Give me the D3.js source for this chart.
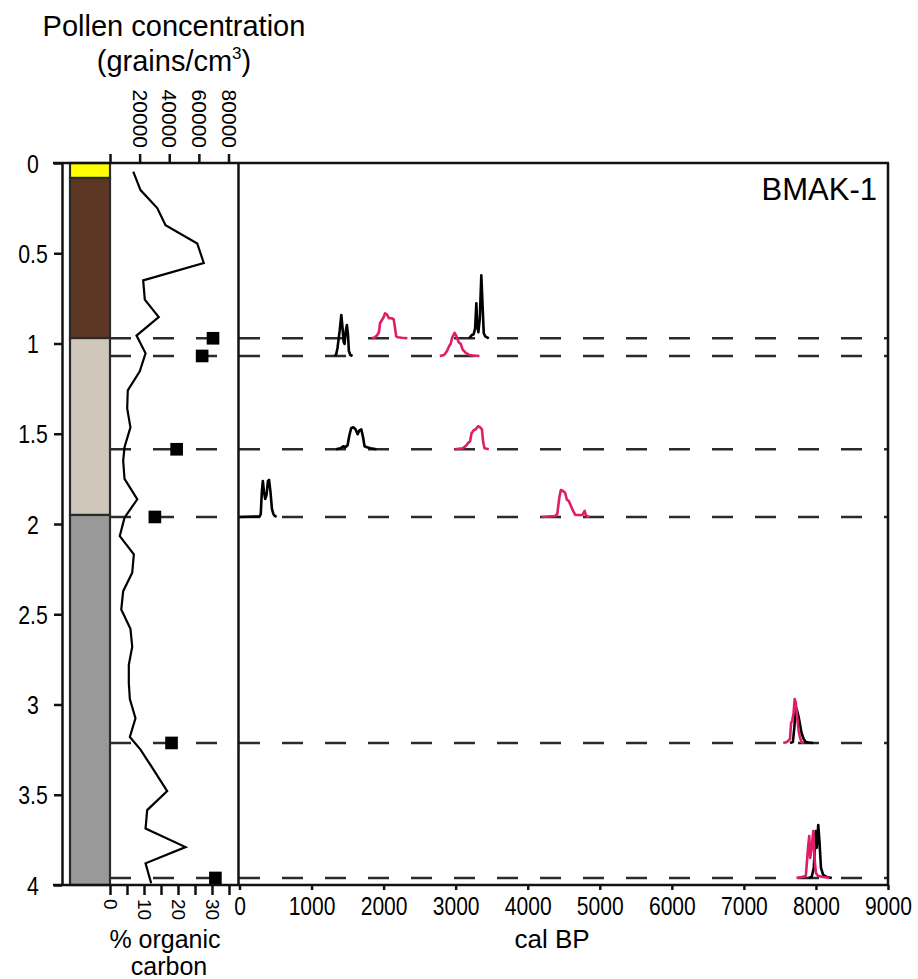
<!DOCTYPE html>
<html><head><meta charset="utf-8">
<script src="https://cdn.jsdelivr.net/npm/d3@7"></script>
<style>
body{margin:0;background:#fff}
text{font-family:"Liberation Sans",Arial,Helvetica,sans-serif;fill:#000}
</style>
</head><body>
<svg id="chart" width="918" height="979"></svg>
<script>
// ---------------- DATA ----------------
const siteName = "BMAK-1";
// stratigraphy (depth in m)
const strataTop    = [0, 0.083, 0.97, 1.95];
const strataBottom = [0.083, 0.97, 1.95, 4];
const strataType   = ["peat top", "peat", "silt", "clay"];

// pollen concentration (grains/cm3) vs depth (m)
const pollenDepth = [0.048,0.15,0.25,0.345,0.446,0.554,0.65,0.757,0.854,0.956,1.054,1.154,1.26,1.36,1.465,1.575,1.65,1.75,1.863,1.965,2.067,2.168,2.27,2.372,2.474,2.58,2.68,2.78,2.88,2.97,3.076,3.18,3.25,3.335,3.48,3.585,3.687,3.79,3.88,3.99];
const pollenConc  = [15700,20600,31900,37500,58900,63300,22400,23500,32900,17900,24000,20100,12000,11600,13800,9800,8900,9800,18400,9800,6600,16100,15000,8900,7600,13800,15000,12700,12700,13400,17200,13400,20600,27300,38600,25100,24000,51000,24000,27800];

// dated depths and % organic carbon
const datedDepth = [0.971, 1.069, 1.586, 1.961, 3.213, 3.961];
const organicC   = [30.3, 27.1, 19.6, 13.2, 18.1, 31.0];

// calibrated age probability distributions
const distSeries = ["black","pink","pink","black","black","pink","black","pink","black","pink","black","pink"];
const distDepth  = [1.069, 0.971, 1.069, 0.971, 1.586, 1.586, 1.961, 1.961, 3.213, 3.213, 3.961, 3.961];
const distAge = [
  [1319,1340,1360,1390,1413,1430,1445,1458,1475,1490,1505,1518,1538,1569],
  [1840,1880,1910,1935,1950,1975,2000,2020,2045,2075,2110,2140,2155,2175,2200,2250,2330],
  [2780,2840,2880,2910,2930,2950,2985,3010,3040,3070,3100,3140,3190,3240,3330],
  [3190,3220,3250,3270,3287,3300,3315,3335,3356,3375,3390,3410,3460],
  [1340,1400,1440,1470,1500,1525,1550,1580,1610,1640,1665,1690,1715,1735,1770,1820,1900],
  [2985,3100,3150,3170,3200,3220,3250,3280,3310,3340,3365,3380,3400,3460],
  [0,280,295,310,324,340,357,375,395,410,430,450,470,490,515],
  [4190,4380,4410,4440,4460,4490,4520,4545,4570,4600,4630,4660,4700,4760,4790,4805,4830,4860],
  [7640,7680,7700,7720,7740,7760,7780,7800,7830,7860,7900,7960],
  [7546,7600,7640,7655,7670,7690,7705,7720,7740,7760,7780,7800,7830],
  [7900,7940,7970,7996,8010,8032,8050,8070,8100,8150,8220],
  [7730,7800,7860,7890,7907,7920,7940,7963,7980,8000,8030,8100,8190]
];
const distProb = [
  [0,.01,.08,.25,.41,.28,.14,.12,.25,.31,.22,.05,.01,0],
  [0,.01,.03,.06,.15,.18,.21,.25,.24,.20,.20,.19,.12,.02,.01,.005,0],
  [0,.01,.05,.10,.12,.18,.23,.20,.14,.12,.06,.03,.01,.005,0],
  [0,.03,.04,.10,.35,.12,.06,.20,.63,.30,.05,.02,0],
  [0,.01,.03,.02,.04,.14,.21,.22,.20,.15,.19,.20,.12,.03,.02,.01,0],
  [0,.01,.04,.06,.08,.16,.19,.20,.23,.22,.20,.08,.01,0],
  [0,.005,.03,.25,.36,.25,.18,.22,.36,.37,.25,.08,.03,.01,0],
  [0,.01,.03,.20,.27,.26,.24,.17,.16,.11,.06,.02,.02,.02,.06,.02,.005,0],
  [0,.01,.15,.36,.32,.26,.18,.10,.04,.01,.005,0],
  [0,.01,.04,.20,.22,.30,.44,.40,.25,.12,.05,.01,0],
  [0,.01,.10,.47,.30,.53,.35,.10,.03,.01,0],
  [0,.01,.02,.30,.42,.20,.30,.47,.20,.05,.02,.01,0]
];

const depthTicks  = [0,0.5,1,1.5,2,2.5,3,3.5,4];
const pollenTicks = [0,20000,40000,60000,80000];
const ocTicks     = [0,5,10,15,20,25,30,35];
const ocLabels    = [0,10,20,30];
const calTicks    = [0,1000,2000,3000,4000,5000,6000,7000,8000,9000];

// ---------------- STYLE ----------------
const strataColor = {"peat top":"#ffff00","peat":"#5e3624","silt":"#cfc8ba","clay":"#999999"};
const seriesColor = {black:"#000000", pink:"#e01e68"};
const lineCol = "#111";

// ---------------- SCALES ----------------
const svg = d3.select("#chart");
const y = d3.scaleLinear().domain([0,4]).range([163,885]);
const xPollen = d3.scaleLinear().domain([0,80000]).range([110,228.5]);
const xOC = d3.scaleLinear().domain([0,35]).range([110,229]);
const xCal = d3.scaleLinear().domain([0,9000]).range([239.5,888]);
const yProb = d3.scaleLinear().domain([0,1]).range([0,100]);

const font = 'font-family:"Liberation Sans",Arial,sans-serif';

// ---------------- TITLES ----------------
svg.append("text").attr("x",174).attr("y",36).attr("text-anchor","middle")
  .attr("font-size",29).text("Pollen concentration");
const t2 = svg.append("text").attr("x",174).attr("y",71).attr("text-anchor","middle").attr("font-size",29);
t2.append("tspan").text("(grains/cm");
t2.append("tspan").attr("font-size",17).attr("dy",-12).text("3");
t2.append("tspan").attr("dy",12).text(")");

// ---------------- STRATIGRAPHY ----------------
svg.append("g").selectAll("rect").data(strataTop).join("rect")
  .attr("x",70).attr("width",40)
  .attr("y",(d)=>y(d)).attr("height",(d,i)=>y(strataBottom[i])-y(d))
  .attr("fill",(d,i)=>strataColor[strataType[i]])
  .attr("stroke","#2a2a2a").attr("stroke-width",2.2);

// ---------------- DASHED DATE LINES ----------------
svg.append("g").selectAll("line").data(datedDepth).join("line")
  .attr("x1",xOC(0)).attr("x2",xCal(9000))
  .attr("y1",d=>y(d)).attr("y2",d=>y(d))
  .attr("stroke","#2b2b2b").attr("stroke-width",2.5)
  .attr("stroke-dasharray","21,22");

// ---------------- POLLEN LINE ----------------
svg.append("path")
  .datum(pollenDepth.map((d,i)=>[pollenConc[i],d]))
  .attr("fill","none").attr("stroke","#000").attr("stroke-width",2.2)
  .attr("stroke-linejoin","miter")
  .attr("d",d3.line().x(d=>xPollen(d[0])).y(d=>y(d[1])));

// ---------------- ORGANIC CARBON SQUARES ----------------
svg.append("g").selectAll("path").data(datedDepth).join("path")
  .attr("transform",(d,i)=>`translate(${xOC(organicC[i])},${y(d)})`)
  .attr("d",d3.symbol().type(d3.symbolSquare).size(160))
  .attr("fill","#000");

// ---------------- AGE DISTRIBUTIONS ----------------
const order = d3.range(distSeries.length).sort((a,b)=> (distSeries[a]==="pink") - (distSeries[b]==="pink"));
svg.append("g").selectAll("path").data(order).join("path")
  .attr("fill","none")
  .attr("stroke",i=>seriesColor[distSeries[i]])
  .attr("stroke-width",2.6)
  .attr("stroke-linejoin","round")
  .attr("d",i=>d3.line().x(d=>xCal(d[0])).y(d=>y(distDepth[i]) - yProb(d[1]))(distAge[i].map((a,j)=>[a,distProb[i][j]])));

// ---------------- FRAME ----------------
const frame = svg.append("g").attr("stroke",lineCol).attr("stroke-width",2.5);
frame.append("line").attr("x1",53).attr("x2",xCal(9000)+1).attr("y1",y(0)).attr("y2",y(0));
frame.append("line").attr("x1",53).attr("x2",xCal(9000)+1).attr("y1",y(4)).attr("y2",y(4));
frame.append("line").attr("x1",xCal(9000)).attr("x2",xCal(9000)).attr("y1",y(0)).attr("y2",y(4));
frame.append("line").attr("x1",xCal(0)-1).attr("x2",xCal(0)-1).attr("y1",y(0)).attr("y2",y(4));

// ---------------- AXES ----------------
function styleAxis(g){
  g.selectAll("line").attr("stroke",lineCol).attr("stroke-width",2.5);
  g.selectAll("path.domain").attr("stroke",lineCol).attr("stroke-width",2.5);
  g.selectAll("text").attr("font-size",21).attr("fill","#000").attr("style",font);
}

// depth axis
const gDepth = svg.append("g").attr("transform","translate(62,0)")
  .call(d3.axisLeft(y).tickValues(depthTicks).tickSize(8).tickSizeOuter(0).tickFormat(d3.format("")))
  .call(styleAxis);
gDepth.selectAll("text").attr("text-anchor","middle").attr("x",0).attr("dy","0.36em")
  .attr("font-size",25).attr("transform","translate(-29,0) scale(0.85,1)");

// pollen axis (top)
const gPol = svg.append("g").attr("transform",`translate(0,${y(0)})`)
  .call(d3.axisTop(xPollen).tickValues(pollenTicks).tickSize(9).tickSizeOuter(0)
        .tickFormat(d=> d===0 ? "" : d3.format("d")(d)))
  .call(styleAxis);
gPol.select("path.domain").remove();
gPol.selectAll("text").attr("text-anchor","end").attr("transform","rotate(90)")
  .attr("x",-15).attr("y",0).attr("dy","0.35em");

// organic carbon axis (bottom)
const gOC = svg.append("g").attr("transform",`translate(0,${y(4)})`)
  .call(d3.axisBottom(xOC).tickValues(ocTicks).tickSize(10).tickSizeOuter(0)
        .tickFormat(d=> ocLabels.includes(d) ? String(d) : ""))
  .call(styleAxis);
gOC.select("path.domain").remove();
gOC.selectAll("text").attr("text-anchor","start").attr("transform","rotate(90)")
  .attr("font-size",19).attr("x",14).attr("y",0).attr("dy","0.35em");

// cal BP axis (bottom)
const gCal = svg.append("g").attr("transform",`translate(0,${y(4)})`)
  .call(d3.axisBottom(xCal).tickValues(calTicks).tickSize(5).tickSizeOuter(0).tickFormat(d3.format("d")))
  .call(styleAxis);
gCal.select("path.domain").remove();
gCal.selectAll("text").attr("font-size",26).attr("y",12).attr("dy","0.71em")
  .attr("transform","scale(0.81,1)");

// axis titles
svg.append("text").attr("x",165).attr("y",948).attr("text-anchor","middle").attr("font-size",25).text("% organic");
svg.append("text").attr("x",169).attr("y",975).attr("text-anchor","middle").attr("font-size",25).text("carbon");
svg.append("text").attr("x",552).attr("y",948).attr("text-anchor","middle").attr("font-size",26).text("cal BP");
svg.append("text").attr("x",877).attr("y",200).attr("text-anchor","end").attr("font-size",31).text(siteName);
</script>
</body></html>
